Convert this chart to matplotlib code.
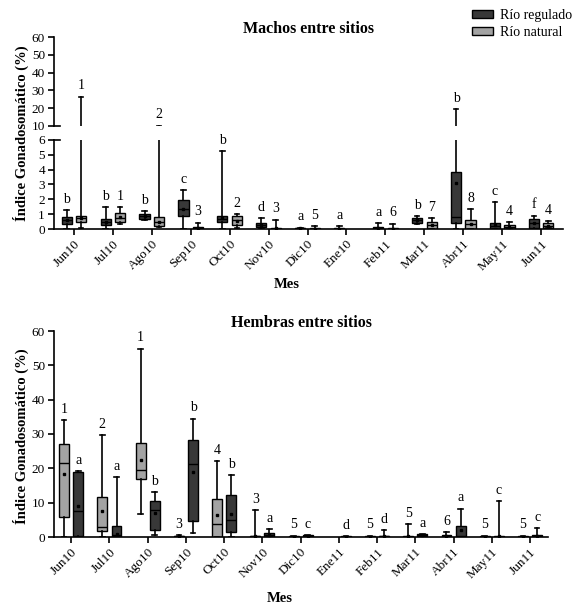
import numpy as np
import matplotlib.pyplot as plt
from matplotlib.patches import Patch

plt.rcParams['font.family'] = ['Liberation Serif', 'DejaVu Serif']

meses_m = ['Jun10', 'Jul10', 'Ago10', 'Sep10', 'Oct10', 'Nov10', 'Dic10',
           'Ene10', 'Feb11', 'Mar11', 'Abr11', 'May11', 'Jun11']
meses_h = ['Jun10', 'Jul10', 'Ago10', 'Sep10', 'Oct10', 'Nov10', 'Dic10',
           'Ene11', 'Feb11', 'Mar11', 'Abr11', 'May11', 'Jun11']

# (min, q1, mediana, q3, max, media); None = sin datos
machos_reg = [(0.0, 0.31, 0.6, 0.83, 1.28, 0.6), (0.0, 0.27, 0.5, 0.67, 1.46, 0.5),
              (0.62, 0.67, 0.85, 1.01, 1.19, 0.85), (0.0, 0.88, 1.33, 1.96, 2.63, 1.35),
              (0.0, 0.5, 0.7, 0.88, 5.28, 0.72), (0.0, 0.16, 0.28, 0.38, 0.72, 0.28),
              (0.0, 0.01, 0.04, 0.08, 0.1, 0.04), (0.0, 0.0, 0.02, 0.05, 0.2, 0.03),
              (0.0, 0.0, 0.07, 0.15, 0.38, 0.08), (0.31, 0.4, 0.58, 0.72, 0.88, 0.58),
              (0.0, 0.4, 0.81, 3.87, 19.5, 3.1), (0.0, 0.0, 0.2, 0.43, 1.82, 0.25),
              (0.0, 0.09, 0.42, 0.7, 0.9, 0.42)]
machos_nat = [(0.05, 0.47, 0.75, 0.88, 26.5, 0.72), (0.35, 0.49, 0.75, 1.06, 1.46, 0.78),
              (0.15, 0.22, 0.45, 0.79, 10.2, 0.5), (0.0, 0.0, 0.05, 0.15, 0.43, 0.08),
              (0.05, 0.25, 0.6, 0.85, 1.0, 0.55), (0.0, 0.0, 0.03, 0.1, 0.63, 0.05),
              (0.0, 0.0, 0.02, 0.06, 0.18, 0.03), None,
              (0.0, 0.0, 0.02, 0.05, 0.36, 0.03), (0.0, 0.0, 0.25, 0.45, 0.72, 0.25),
              (0.0, 0.0, 0.35, 0.6, 1.37, 0.35), (0.0, 0.0, 0.15, 0.29, 0.45, 0.15),
              (0.05, 0.05, 0.22, 0.4, 0.52, 0.22)]
machos_reg_letras = ['b', 'b', 'b', 'c', 'b', 'd', 'a', 'a', 'a', 'b', 'b', 'c', 'f']
machos_nat_letras = ['1', '1', '2', '3', '2', '3', '5', None, '6', '7', '8', '4', '4']

hembras_nat = [(0.0, 5.8, 21.5, 27.2, 34.0, 18.3), (0.0, 1.8, 2.9, 11.7, 29.8, 7.6),
               (6.8, 17.0, 19.4, 27.4, 54.9, 22.5), (0.0, 0.0, 0.2, 0.4, 0.5, 0.2),
               (0.0, 0.1, 3.7, 11.0, 22.0, 6.3), (0.0, 0.0, 0.2, 0.3, 7.8, 0.3),
               (0.0, 0.0, 0.1, 0.3, 0.4, 0.1), None,
               (0.0, 0.0, 0.1, 0.3, 0.4, 0.1), (0.0, 0.0, 0.1, 0.2, 3.7, 0.2),
               (0.0, 0.0, 0.3, 0.6, 1.4, 0.3), (0.0, 0.0, 0.1, 0.3, 0.4, 0.1),
               (0.0, 0.0, 0.1, 0.3, 0.4, 0.1)]
hembras_reg = [(0.0, 0.3, 7.5, 18.8, 19.2, 8.9), (0.0, 0.0, 0.5, 3.2, 17.5, 0.8),
               (0.7, 2.1, 7.8, 10.5, 13.1, 7.0), (1.2, 4.7, 21.4, 28.3, 34.5, 18.9),
               (0.0, 1.5, 5.0, 12.1, 18.0, 6.6), (0.0, 0.0, 0.6, 1.2, 2.3, 0.6),
               (0.0, 0.0, 0.2, 0.5, 0.6, 0.2), (0.0, 0.0, 0.1, 0.3, 0.3, 0.1),
               (0.0, 0.0, 0.2, 0.4, 2.1, 0.2), (0.2, 0.2, 0.5, 0.9, 0.9, 0.5),
               (0.0, 0.0, 0.4, 3.1, 8.3, 1.9), (0.0, 0.0, 0.1, 0.3, 10.5, 0.2),
               (0.0, 0.0, 0.2, 0.5, 2.7, 0.2)]
hembras_nat_letras = ['1', '2', '1', '3', '4', '3', '5', None, '5', '5', '6', '5', '5']
hembras_reg_letras = ['a', 'a', 'b', 'b', 'b', 'a', 'c', 'd', 'd', 'a', 'a', 'c', 'c']

OSCURO = '#383838'
CLARO = '#a3a3a3'
W = 0.26
D = 0.185


def cajas(ax, datos, desp, color):
    stats, pos = [], []
    for i, d in enumerate(datos):
        if d is None:
            continue
        stats.append(dict(whislo=d[0], q1=d[1], med=d[2], q3=d[3], whishi=d[4],
                          mean=d[5], fliers=[]))
        pos.append(i + desp)
    ax.bxp(stats, positions=pos, widths=W, capwidths=0.12, patch_artist=True,
           showmeans=True, showfliers=False,
           boxprops=dict(facecolor=color, edgecolor='black', linewidth=1.0),
           medianprops=dict(color='black', linewidth=1.0),
           whiskerprops=dict(color='black', linewidth=1.2),
           capprops=dict(color='black', linewidth=1.2),
           meanprops=dict(marker='s', markersize=1.5, markerfacecolor='black',
                          markeredgecolor='black'),
           manage_ticks=False)


def letras(ax, datos, lets, desp, limite=None):
    for i, (d, t) in enumerate(zip(datos, lets)):
        if d is None or t is None:
            continue
        if limite is not None and not limite(d[4]):
            continue
        ax.annotate(t, (i + desp, d[4]), xytext=(0, 3), textcoords='offset points',
                    ha='center', va='bottom', fontsize=10)


def estilo(ax):
    for s in ['top', 'right']:
        ax.spines[s].set_visible(False)
    ax.spines['left'].set_linewidth(1.2)
    ax.spines['bottom'].set_linewidth(1.2)
    ax.tick_params(axis='both', direction='out', length=4, width=1.2, labelsize=9.5,
                   pad=2.5)


fig = plt.figure(figsize=(5.8, 6.06), dpi=100)
L = 54 / 580
ax_up = fig.add_axes([L, 1 - 126 / 606, 509 / 580, 89 / 606])
ax_lo = fig.add_axes([L, 1 - 229 / 606, 509 / 580, 89 / 606], sharex=ax_up)
ax_h = fig.add_axes([L, 1 - 537 / 606, 494 / 580, 206 / 606])

x = np.arange(len(meses_m))

# Machos: eje cortado
for ax in (ax_up, ax_lo):
    cajas(ax, machos_reg, -D, OSCURO)
    cajas(ax, machos_nat, D, CLARO)
    estilo(ax)
    ax.set_xlim(-0.51, 12.56)

ax_up.set_ylim(10, 60)
ax_up.set_yticks(np.arange(10, 61, 10))
ax_up.spines['bottom'].set_visible(False)
ax_up.tick_params(axis='x', bottom=False, labelbottom=False)
ax_lo.set_ylim(0, 6)
ax_lo.set_yticks(np.arange(0, 7, 1))
ax_lo.set_xticks(x)
ax_lo.set_xticklabels(meses_m, rotation=45, ha='right', rotation_mode='anchor')
ax_up.plot([0, 0.012], [0, 0], transform=ax_up.transAxes, color='black',
           lw=1.2, clip_on=False)
ax_lo.plot([0, 0.012], [1, 1], transform=ax_lo.transAxes, color='black',
           lw=1.2, clip_on=False)

letras(ax_lo, machos_reg, machos_reg_letras, -D, lambda v: v < 10)
letras(ax_lo, machos_nat, machos_nat_letras, D, lambda v: v < 10)
letras(ax_up, machos_reg, machos_reg_letras, -D, lambda v: v >= 10)
letras(ax_up, machos_nat, machos_nat_letras, D, lambda v: v >= 10)

ax_up.set_title('Machos entre sitios', fontsize=11.5, fontweight='bold', pad=0)

# Hembras
cajas(ax_h, hembras_nat, -D, CLARO)
cajas(ax_h, hembras_reg, D, OSCURO)
estilo(ax_h)
ax_h.set_xlim(-0.45, 12.47)
ax_h.set_ylim(0, 60)
ax_h.set_yticks(np.arange(0, 61, 10))
ax_h.set_xticks(x)
ax_h.set_xticklabels(meses_h, rotation=45, ha='right', rotation_mode='anchor')
letras(ax_h, hembras_nat, hembras_nat_letras, -D)
letras(ax_h, hembras_reg, hembras_reg_letras, D)
ax_h.set_title('Hembras entre sitios', fontsize=11.5, fontweight='bold', pad=2)

# Etiquetas de ejes
yl = 'Índice Gonadosomático (%)'
fig.text(21 / 580, 1 - 133 / 606, yl, rotation=90, ha='center', va='center',
         fontsize=10.5, fontweight='bold')
fig.text(21 / 580, 1 - 436 / 606, yl, rotation=90, ha='center', va='center',
         fontsize=10.5, fontweight='bold')
fig.text(287 / 580, 1 - 285 / 606, 'Mes', ha='center', va='center',
         fontsize=10.5, fontweight='bold')
fig.text(280 / 580, 1 - 598 / 606, 'Mes', ha='center', va='center',
         fontsize=10.5, fontweight='bold')

handles = [Patch(facecolor=OSCURO, edgecolor='black', label='Río regulado'),
           Patch(facecolor=CLARO, edgecolor='black', label='Río natural')]
fig.legend(handles=handles, loc='upper left', bbox_to_anchor=(472 / 580, 1 - 9 / 606),
           frameon=False, fontsize=10, handlelength=1.5, handleheight=0.45,
           handletextpad=0.55, labelspacing=0.3, borderpad=0, borderaxespad=0)

fig.savefig('out.png', dpi=100)
